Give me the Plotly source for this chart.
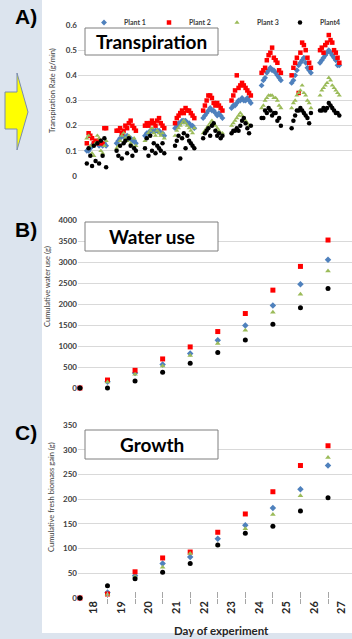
import plotly.graph_objects as go

W, H = 352, 639

# ---------------- data ----------------
plants = ["Plant 1", "Plant 2", "Plant 3", "Plant4"]
colors = ["#4F81BD", "#FF0000", "#9BBB59", "#000000"]
symbols = ["diamond", "square", "triangle-up", "circle"]

# Panel A: transpiration rate (g/min), daytime readings
cluster_start = [18.25, 19.33, 20.36, 21.45, 22.47, 23.50, 24.59, 25.68, 26.71]
reading_offset = [0.00, 0.064, 0.127, 0.19, 0.255, 0.318, 0.382, 0.445, 0.51, 0.573, 0.636, 0.70]

trans_p1 = [
    [0.10, 0.10, 0.11, 0.12, 0.13, 0.13, 0.13, 0.12, 0.13, 0.12, 0.13, 0.12],
    [0.13, 0.14, 0.15, 0.16, 0.16, 0.15, 0.16, 0.15, 0.15, 0.14, 0.14, 0.13],
    [0.16, 0.17, 0.17, 0.18, 0.18, 0.18, 0.18, 0.18, 0.18, 0.17, 0.17, 0.16],
    [0.19, 0.20, 0.21, 0.21, 0.22, 0.22, 0.22, 0.21, 0.21, 0.20, 0.20, 0.19],
    [0.23, 0.24, 0.25, 0.26, 0.27, 0.26, 0.26, 0.25, 0.24, 0.25, 0.24, 0.23],
    [0.27, 0.28, 0.28, 0.29, 0.30, 0.30, 0.31, 0.30, 0.30, 0.31, 0.30, 0.29],
    [0.36, 0.38, 0.39, 0.41, 0.42, 0.43, 0.42, 0.42, 0.41, 0.40, 0.39, 0.38],
    [0.37, 0.38, 0.40, 0.42, 0.44, 0.45, 0.46, 0.47, 0.45, 0.43, 0.42, 0.41],
    [0.45, 0.46, 0.47, 0.48, 0.49, 0.50, 0.49, 0.48, 0.47, 0.46, 0.44, 0.44],
]
trans_p2 = [
    [0.13, 0.17, 0.16, 0.15, 0.13, 0.14, 0.13, 0.14, 0.13, 0.13, 0.19, 0.19],
    [0.18, 0.18, 0.19, 0.17, 0.18, 0.20, 0.19, 0.21, 0.22, 0.20, 0.19, 0.18],
    [0.20, 0.21, 0.20, 0.21, 0.22, 0.21, 0.20, 0.22, 0.23, 0.21, 0.20, 0.19],
    [0.21, 0.23, 0.24, 0.25, 0.26, 0.25, 0.27, 0.26, 0.26, 0.25, 0.24, 0.23],
    [0.26, 0.28, 0.30, 0.32, 0.32, 0.31, 0.29, 0.28, 0.29, 0.28, 0.27, 0.26],
    [0.30, 0.32, 0.34, 0.40, 0.35, 0.36, 0.37, 0.36, 0.35, 0.34, 0.33, 0.32],
    [0.41, 0.42, 0.43, 0.46, 0.48, 0.49, 0.51, 0.47, 0.46, 0.45, 0.42, 0.41],
    [0.40, 0.43, 0.45, 0.47, 0.33, 0.49, 0.53, 0.52, 0.50, 0.47, 0.45, 0.43],
    [0.50, 0.51, 0.49, 0.52, 0.53, 0.56, 0.54, 0.53, 0.50, 0.49, 0.47, 0.45],
]
trans_p3 = [
    [0.15, 0.16, 0.12, 0.09, 0.08, 0.13, 0.16, 0.15, 0.10, 0.09, 0.12, 0.14],
    [0.11, 0.12, 0.14, 0.16, 0.17, 0.15, 0.14, 0.16, 0.13, 0.12, 0.15, 0.12],
    [0.14, 0.15, 0.17, 0.18, 0.19, 0.17, 0.16, 0.18, 0.17, 0.16, 0.17, 0.15],
    [0.16, 0.18, 0.19, 0.20, 0.21, 0.22, 0.21, 0.20, 0.19, 0.18, 0.17, 0.19],
    [0.17, 0.18, 0.19, 0.20, 0.21, 0.22, 0.21, 0.20, 0.19, 0.18, 0.17, 0.17],
    [0.20, 0.21, 0.22, 0.23, 0.24, 0.25, 0.24, 0.23, 0.22, 0.21, 0.20, 0.20],
    [0.27, 0.28, 0.30, 0.31, 0.32, 0.32, 0.32, 0.31, 0.31, 0.30, 0.28, 0.27],
    [0.27, 0.29, 0.30, 0.32, 0.33, 0.34, 0.36, 0.33, 0.32, 0.30, 0.29, 0.27],
    [0.32, 0.34, 0.35, 0.36, 0.37, 0.39, 0.38, 0.36, 0.35, 0.34, 0.33, 0.32],
]
trans_p4 = [
    [0.05, 0.11, 0.08, 0.04, 0.12, 0.06, 0.13, 0.05, 0.14, 0.08, 0.15, 0.035],
    [0.10, 0.08, 0.12, 0.07, 0.13, 0.14, 0.09, 0.15, 0.12, 0.08, 0.11, 0.10],
    [0.11, 0.15, 0.08, 0.16, 0.10, 0.13, 0.09, 0.12, 0.11, 0.10, 0.13, 0.09],
    [0.12, 0.14, 0.16, 0.07, 0.15, 0.17, 0.11, 0.16, 0.14, 0.13, 0.12, 0.11],
    [0.15, 0.17, 0.18, 0.19, 0.16, 0.20, 0.21, 0.18, 0.16, 0.17, 0.15, 0.16],
    [0.17, 0.18, 0.18, 0.19, 0.18, 0.20, 0.22, 0.23, 0.21, 0.19, 0.17, 0.20],
    [0.23, 0.23, 0.26, 0.25, 0.27, 0.26, 0.24, 0.25, 0.25, 0.22, 0.23, 0.20],
    [0.19, 0.22, 0.24, 0.26, 0.26, 0.27, 0.26, 0.25, 0.24, 0.23, 0.21, 0.25],
    [0.26, 0.26, 0.27, 0.26, 0.27, 0.29, 0.28, 0.27, 0.26, 0.25, 0.25, 0.24],
]
transpiration = [trans_p1, trans_p2, trans_p3, trans_p4]

# Panels B and C: daily values
days = [18, 19, 20, 21, 22, 23, 24, 25, 26, 27]
water_p1 = [0, 150, 358, 557, 819, 1137, 1487, 1964, 2473, 3054]
water_p2 = [0, 190, 421, 692, 978, 1344, 1773, 2330, 2895, 3523]
water_p3 = [0, 140, 326, 525, 771, 1058, 1376, 1805, 2235, 2783]
water_p4 = [0, 0, 167, 374, 588, 843, 1145, 1519, 1908, 2370]
water = [water_p1, water_p2, water_p3, water_p4]

growth_p1 = [0, 11, 45, 70, 83, 120, 147, 182, 220, 268]
growth_p2 = [0, 8, 53, 81, 93, 133, 170, 215, 268, 308]
growth_p3 = [0, 7, 43, 62, 90, 107, 140, 169, 207, 284]
growth_p4 = [0, 25, 39, 52, 70, 107, 131, 145, 176, 203]
growth = [growth_p1, growth_p2, growth_p3, growth_p4]

day_labels = ["18", "19", "20", "21", "22", "23", "24", "25", "26", "27"]
label_pos = [18.5, 19.5, 20.5, 21.5, 22.5, 23.5, 24.5, 25.5, 26.5, 27.5]
tick_pos = [19, 20, 21, 22, 23, 24, 25, 26, 27]

# ---------------- figure ----------------
def fx(px):
    return px / W

def fy(py):
    return 1 - py / H

legend_ids = ["legend", "legend2", "legend3", "legend4"]
legend_left_px = [84, 149, 217, 280]

fig = go.Figure()

for i in range(4):
    xs, ys = [], []
    for d, start in enumerate(cluster_start):
        for k, off in enumerate(reading_offset):
            xs.append(start + off)
            ys.append(transpiration[i][d][k])
    fig.add_trace(go.Scatter(
        x=xs, y=ys, mode="markers", name=plants[i], legendgroup=plants[i],
        legend=legend_ids[i],
        marker=dict(color=colors[i], symbol=symbols[i], size=4.5, line=dict(width=0)),
        xaxis="x", yaxis="y", cliponaxis=False))

for i in range(4):
    fig.add_trace(go.Scatter(
        x=days, y=water[i], mode="markers", name=plants[i], legendgroup=plants[i],
        showlegend=False,
        marker=dict(color=colors[i], symbol=symbols[i], size=5, line=dict(width=0)),
        xaxis="x2", yaxis="y2", cliponaxis=False))

for i in range(4):
    fig.add_trace(go.Scatter(
        x=days, y=growth[i], mode="markers", name=plants[i], legendgroup=plants[i],
        showlegend=False,
        marker=dict(color=colors[i], symbol=symbols[i], size=5, line=dict(width=0)),
        xaxis="x3", yaxis="y3", cliponaxis=False))

fig.add_trace(go.Scatter(x=[None], y=[None], xaxis="x4", yaxis="y3",
                         showlegend=False, hoverinfo="skip"))

xr = [17.93, 27.87]
xdom = [fx(78), 1.0]
grid = "#d9d9d9"
tickfont = dict(family="Lato", size=8, color="#404040", weight="bold")

common_x = dict(range=xr, domain=xdom, showgrid=False, zeroline=False,
                showline=False, fixedrange=True, automargin=False)

legend_style = dict(orientation="h", y=fy(8), xanchor="left", yanchor="top",
                    bgcolor="rgba(0,0,0,0)", itemwidth=30,
                    font=dict(family="Lato", size=7, color="#404040", weight="bold"))
legends = {lid: dict(legend_style, x=fx(px)) for lid, px in zip(legend_ids, legend_left_px)}

fig.update_layout(
    width=W, height=H,
    margin=dict(l=0, r=0, t=0, b=0, autoexpand=False),
    paper_bgcolor="#dce4ee",
    plot_bgcolor="rgba(0,0,0,0)",
    showlegend=True,
    **legends,
    xaxis=dict(**common_x, anchor="y", showticklabels=False, ticks=""),
    xaxis2=dict(**common_x, anchor="y2", showticklabels=False, ticks=""),
    xaxis3=dict(**common_x, anchor="y3", tickmode="array", tickvals=label_pos,
                ticktext=day_labels, tickangle=-90, ticks="",
                tickfont=dict(family="Lato", size=11, color="#262626", weight="bold"),
                minor=dict(tickmode="array", tickvals=tick_pos, ticks="outside",
                           ticklen=5, tickcolor="#a6a6a6", tickwidth=1, showgrid=False)),
    xaxis4=dict(**common_x, anchor="y3", overlaying="x3", tickmode="array",
                tickvals=tick_pos, ticks="inside", ticklen=6, tickcolor="#a6a6a6",
                showticklabels=False),
    yaxis=dict(domain=[fy(176), fy(25)], range=[0, 0.6], tickvals=[0, 0.1, 0.2, 0.3, 0.4, 0.5, 0.6],
               ticktext=["0", "0.1", "0.2", "0.3", "0.4", "0.5", "0.6"],
               showgrid=True, gridcolor=grid, zeroline=False, anchor="x",
               tickfont=tickfont, ticks="", fixedrange=True, automargin=False),
    yaxis2=dict(domain=[fy(388), fy(220)], range=[0, 4000], dtick=500,
                showgrid=True, gridcolor=grid, zeroline=False, anchor="x2",
                tickfont=tickfont, ticks="", fixedrange=True, automargin=False),
    yaxis3=dict(domain=[fy(598), fy(425)], range=[0, 350], dtick=50,
                showgrid=True, gridcolor=grid, zeroline=False, anchor="x3",
                tickfont=tickfont, ticks="", fixedrange=True, automargin=False),
)

shapes = [
    # white panel
    dict(type="rect", xref="paper", yref="paper", x0=fx(42), x1=1.0, y0=fy(633), y1=1.0,
         fillcolor="white", line=dict(width=0), layer="below"),
    # yellow arrow
    dict(type="path", xref="paper", yref="paper",
         path=(f"M {fx(5)} {fy(92)} L {fx(17)} {fy(92)} L {fx(17)} {fy(73)} "
               f"L {fx(28)} {fy(112)} L {fx(17)} {fy(150)} L {fx(17)} {fy(129)} "
               f"L {fx(5)} {fy(129)} Z"),
         fillcolor="#ffff00", line=dict(color="#7a8cb0", width=1), layer="above"),
]
for top, bot in [(28, 55), (222, 251), (430, 459)]:
    shapes.append(dict(type="rect", xref="paper", yref="paper", x0=fx(85), x1=fx(218),
                       y0=fy(bot), y1=fy(top), fillcolor="white",
                       line=dict(color="#7f7f7f", width=1), layer="above"))
fig.update_layout(shapes=shapes)

annos = []
for txt, cy in [("Transpiration", 41.5), ("Water use", 236.5), ("Growth", 444.5)]:
    annos.append(dict(text=txt, x=fx(151.5), y=fy(cy), xref="paper", yref="paper",
                      showarrow=False, xanchor="center", yanchor="middle",
                      font=dict(family="Lato", size=19, color="#000000", weight="bold")))
for txt, cy in [("A)", 16), ("B)", 230), ("C)", 432)]:
    annos.append(dict(text=txt, x=fx(13), y=fy(cy), xref="paper", yref="paper",
                      showarrow=False, xanchor="left", yanchor="middle",
                      font=dict(family="Liberation Sans", size=21, color="#000000",
                                weight="bold")))
for txt, cx, cy in [("Transpiration Rate (g/min)", 52, 91),
                    ("Cumulative water use (g)", 47, 287),
                    ("Cumulative fresh biomass gain (g)", 51, 497)]:
    annos.append(dict(text=txt, x=fx(cx), y=fy(cy), xref="paper", yref="paper",
                      showarrow=False, textangle=-90, xanchor="center", yanchor="middle",
                      font=dict(family="Lato", size=7.5, color="#404040")))
annos.append(dict(text="Day of experiment", x=fx(221), y=fy(630), xref="paper", yref="paper",
                  showarrow=False, xanchor="center", yanchor="middle",
                  font=dict(family="Lato", size=11.5, color="#262626", weight="bold")))
fig.update_layout(annotations=annos)

fig.write_html("out.html", config={"displayModeBar": False},
               post_script="document.body.style.margin='0';")
